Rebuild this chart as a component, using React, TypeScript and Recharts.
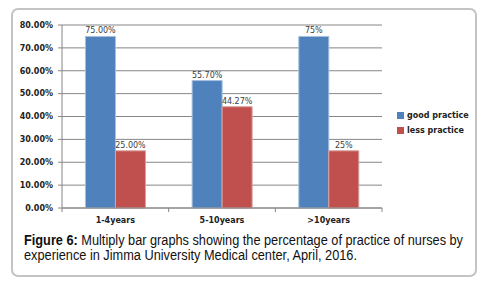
import React from 'react';
import { BarChart, Bar, XAxis, YAxis, CartesianGrid, LabelList } from 'recharts';

const categories = ['1-4years', '5-10years', '>10years'];
const goodPractice = [75.0, 55.7, 75.0];
const lessPractice = [25.0, 44.27, 25.0];
const goodLabels = ['75.00%', '55.70%', '75%'];
const lessLabels = ['25.00%', '44.27%', '25%'];
const yTicks = [0, 10, 20, 30, 40, 50, 60, 70, 80];
const seriesNames = ['good practice', 'less practice'];
const colors = ['#4F81BD', '#C0504D'];

const data = categories.map((c, i) => ({
  name: c,
  good: goodPractice[i],
  less: lessPractice[i],
  goodLabel: goodLabels[i],
  lessLabel: lessLabels[i],
}));

const FONT = 'DejaVu Sans, sans-serif';
const CAP_FONT = 'Liberation Sans, Arial, sans-serif';
const SX = 0.911;

const CatTick = (props: any) => {
  const { x, y, payload, index, width, visibleTicksCount } = props;
  const bw = width / visibleTicksCount;
  const top = y - 8;
  return (
    <g>
      <line x1={x - bw / 2} y1={top} x2={x - bw / 2} y2={top + 4} stroke="#868686" />
      {index === visibleTicksCount - 1 && (
        <line x1={x + bw / 2} y1={top} x2={x + bw / 2} y2={top + 4} stroke="#868686" />
      )}
      <text x={x} y={y + 7} textAnchor="middle" fontFamily={FONT} fontSize={8} fontWeight="bold" fill="#222">
        {payload.value}
      </text>
    </g>
  );
};

export default function App() {
  return (
    <div style={{ position: 'absolute', left: 0, top: 0, width: 484, height: 282, background: '#fff' }}>
      <div
        style={{
          position: 'absolute',
          left: 11,
          top: 8,
          width: 462,
          height: 265,
          border: '2px solid #c4c4c4',
          borderRadius: 7,
        }}
      />
      <div style={{ position: 'absolute', left: 0, top: 0 }}>
        <BarChart
          width={484}
          height={232}
          data={data}
          margin={{ top: 25, right: 102, bottom: 0, left: 0 }}
          barCategoryGap="22%"
          barGap={0}
        >
          <CartesianGrid vertical={false} stroke="#868686" strokeWidth={1} />
          <XAxis
            dataKey="name"
            height={24}
            axisLine={{ stroke: '#868686' }}
            tickLine={false}
            tick={<CatTick />}
            interval={0}
          />
          <YAxis
            width={62}
            domain={[0, 80]}
            ticks={yTicks}
            interval={0}
            axisLine={{ stroke: '#868686' }}
            tickLine={{ stroke: '#868686' }}
            tickSize={4}
            tickMargin={5}
            tickFormatter={(v: number) => v.toFixed(2) + '%'}
            tick={{ fontFamily: FONT, fontSize: 8, fontWeight: 'bold', fill: '#222' }}
          />
          <Bar dataKey="good" name={seriesNames[0]} fill={colors[0]} stroke="#a7bfde" strokeWidth={1} isAnimationActive={false}>
            <LabelList dataKey="goodLabel" position="top" offset={3} fontFamily={FONT} fontSize={8} fill="#404040" />
          </Bar>
          <Bar dataKey="less" name={seriesNames[1]} fill={colors[1]} stroke="#d9a09e" strokeWidth={1} isAnimationActive={false}>
            <LabelList dataKey="lessLabel" position="top" offset={3} fontFamily={FONT} fontSize={8} fill="#404040" />
          </Bar>
        </BarChart>
      </div>
      <div
        style={{
          position: 'absolute',
          left: 397,
          top: 108,
          fontFamily: FONT,
          fontSize: 8,
          fontWeight: 'bold',
          color: '#222',
          whiteSpace: 'nowrap',
        }}
      >
        {seriesNames.map((n, i) => (
          <div key={n} style={{ display: 'flex', alignItems: 'center', height: 15 }}>
            <span style={{ display: 'inline-block', width: 7, height: 7, background: colors[i], marginRight: 3 }} />
            <span>{n}</span>
          </div>
        ))}
      </div>
      <svg style={{ position: 'absolute', left: 0, top: 0 }} width={484} height={282}>
        <g transform={`translate(24,0) scale(${SX},1)`}>
          <text x={0} y={245} fontFamily={CAP_FONT} fontSize={14} fill="#111" textLength={439 / SX} lengthAdjust="spacingAndGlyphs">
            <tspan fontWeight="bold">Figure 6:</tspan>
            <tspan> Multiply bar graphs showing the percentage of practice of nurses by</tspan>
          </text>
          <text x={0} y={260} fontFamily={CAP_FONT} fontSize={14} fill="#111" textLength={333 / SX} lengthAdjust="spacingAndGlyphs">
            experience in Jimma University Medical center, April, 2016.
          </text>
        </g>
      </svg>
    </div>
  );
}
